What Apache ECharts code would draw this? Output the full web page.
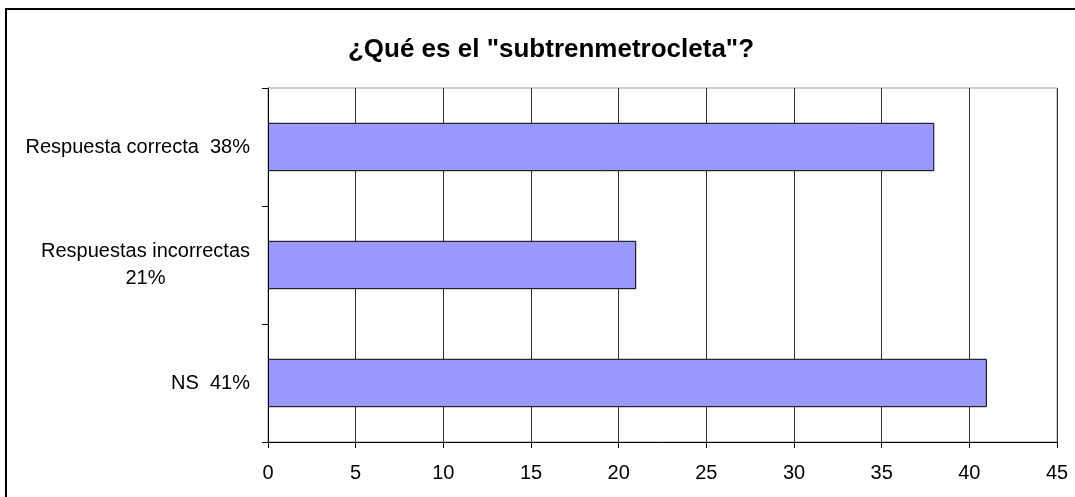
<html lang="es">
<head>
    <meta charset="UTF-8">
    <title>¿Qué es el "subtrenmetrocleta"?</title>
    <script src="https://cdn.jsdelivr.net/npm/echarts@6/dist/echarts.min.js"></script>
</head>
<style>
    html, body { margin: 0; padding: 0; background: #fff; }
    #container { width: 1075px; height: 497px; }
</style>
<body>
<div id="container"></div>
<script>
    // datos
    var categories = ['Respuesta correcta  38%', 'Respuestas incorrectas\n21%', 'NS  41%'];
    var values = [38, 21, 41];
    var xTicks = [0, 5, 10, 15, 20, 25, 30, 35, 40, 45];

    var chart = echarts.init(document.getElementById('container'));
    var font = 'Liberation Sans, Arial, sans-serif';

    var option = {
        animation: false,
        title: {
            text: '¿Qué es el "subtrenmetrocleta"?',
            left: 546,
            textAlign: 'center',
            top: 32,
            textStyle: {
                fontFamily: font,
                fontSize: 26,
                fontWeight: 'bold',
                color: '#000'
            }
        },
        graphic: [{
            type: 'rect',
            shape: { x: 6, y: 9, width: 1100, height: 600 },
            style: { fill: 'none', stroke: '#000', lineWidth: 2 },
            silent: true
        }],
        grid: {
            left: 268,
            top: 88,
            right: 18,
            bottom: 55,
            show: true,
            borderColor: '#999',
            borderWidth: 1
        },
        xAxis: {
            type: 'value',
            min: xTicks[0],
            max: xTicks[xTicks.length - 1],
            interval: 5,
            axisLine: { show: true, lineStyle: { color: '#000' } },
            axisTick: { show: true, length: 6, lineStyle: { color: '#000' } },
            splitLine: { show: true, lineStyle: { color: '#333' } },
            axisLabel: {
                margin: 21,
                fontFamily: font,
                fontSize: 20,
                color: '#000'
            }
        },
        yAxis: {
            type: 'category',
            inverse: true,
            data: categories,
            axisLine: { show: true, lineStyle: { color: '#000' } },
            axisTick: { show: true, length: 6, lineStyle: { color: '#000' } },
            axisLabel: {
                margin: 18,
                fontFamily: font,
                fontSize: 20,
                color: '#000',
                formatter: function (v) {
                    return v.split('\n').map(function (s) { return '{c|' + s + '}'; }).join('\n');
                },
                rich: {
                    c: {
                        align: 'center',
                        fontFamily: font,
                        fontSize: 20,
                        lineHeight: 27,
                        color: '#000'
                    }
                }
            }
        },
        series: [{
            type: 'bar',
            data: values,
            barCategoryGap: '59%',
            itemStyle: {
                color: '#9999ff',
                borderColor: '#000',
                borderWidth: 1
            }
        }]
    };

    chart.setOption(option);
</script>
</body>
</html>
